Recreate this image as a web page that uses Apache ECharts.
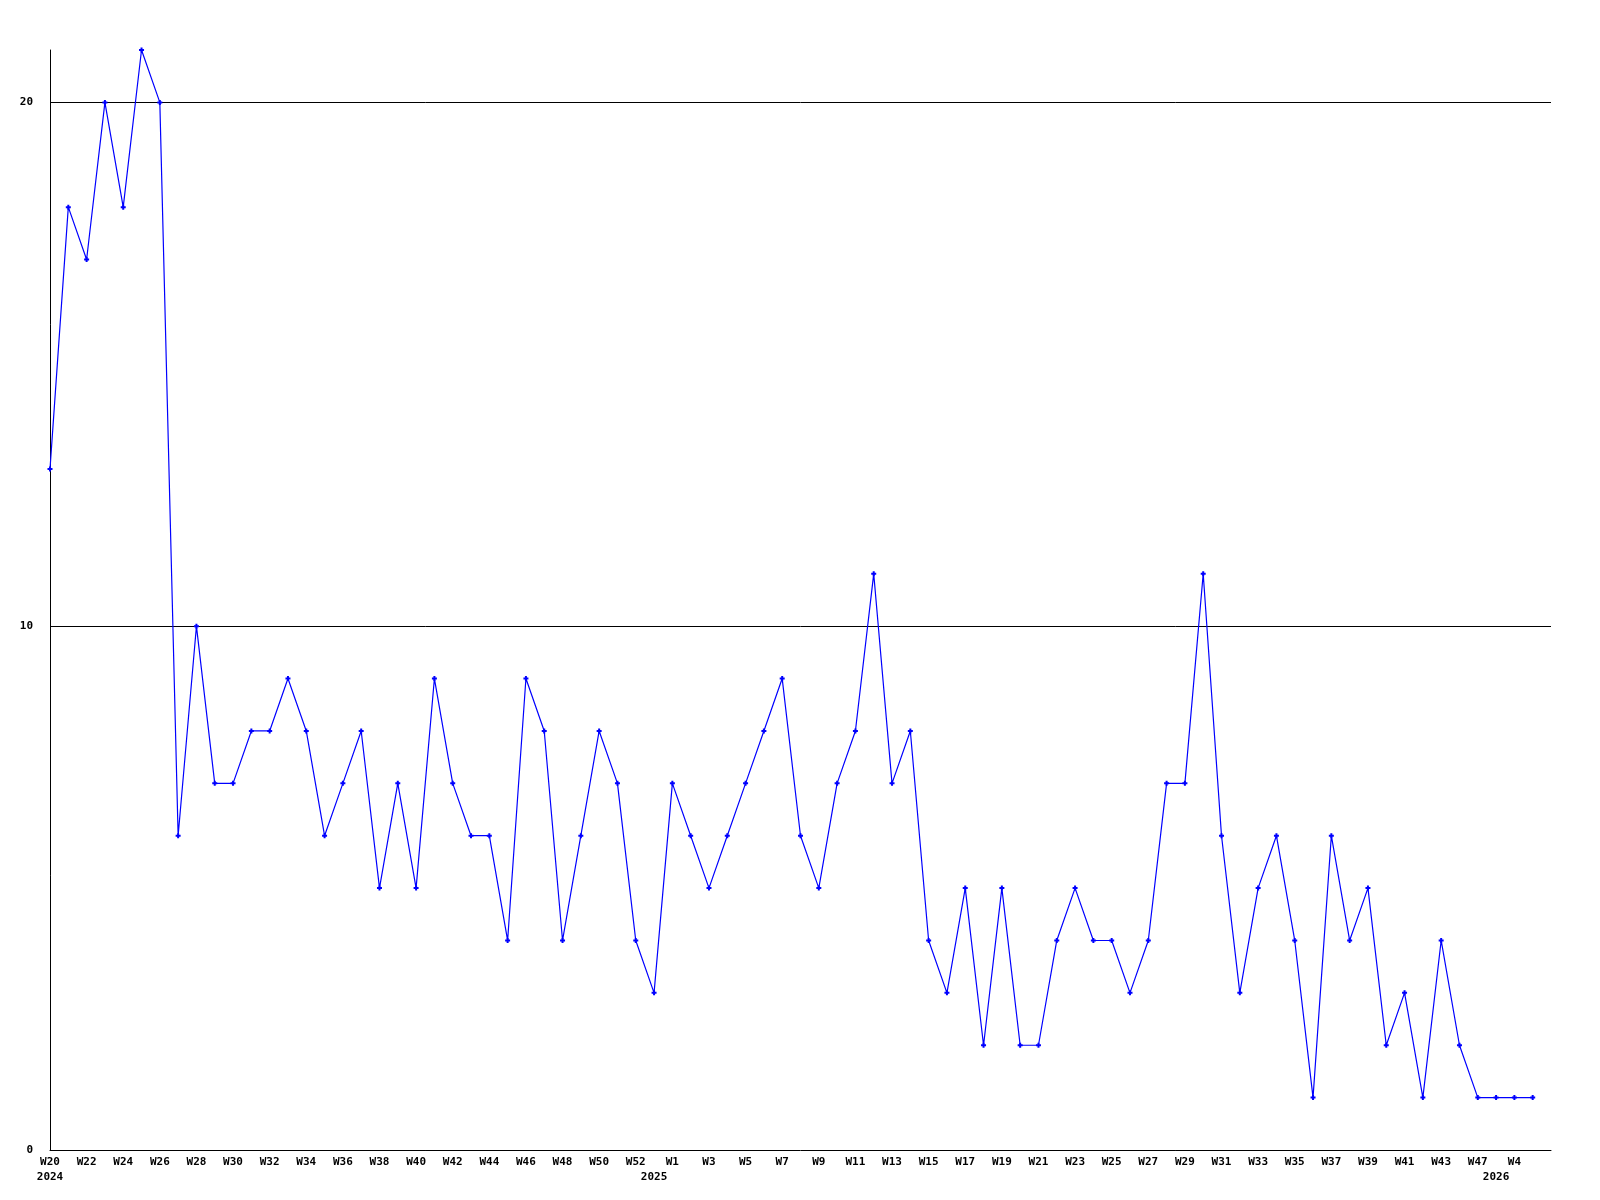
<!DOCTYPE html>
<html>
<head>
<meta charset="utf-8">
<script src="https://cdn.jsdelivr.net/npm/echarts@6/dist/echarts.min.js"></script>
<style>html,body{margin:0;padding:0;background:#fff}#c{width:1600px;height:1200px}</style>
</head>
<body>
<div id="c"></div>
<script>
const weeks = ['W20','W21','W22','W23','W24','W25','W26','W27','W28','W29','W30','W31','W32','W33','W34','W35','W36','W37','W38','W39','W40','W41','W42','W43','W44','W45','W46','W47','W48','W49','W50','W51','W52','W53',
  'W1','W2','W3','W4','W5','W6','W7','W8','W9','W10','W11','W12','W13','W14','W15','W16','W17','W18','W19','W20','W21','W22','W23','W24','W25','W26','W27','W28','W29','W30','W31','W32','W33','W34','W35','W36','W37','W38','W39','W40','W41','W42','W43','W45','W47','W1','W4','W5'];
const yearMarks = {0: '2024', 33: '2025', 79: '2026'};
const values = [13,18,17,20,18,21,20,6,10,7,7,8,8,9,8,6,7,8,5,7,5,9,7,6,6,4,9,8,4,6,8,7,4,3,
  7,6,5,6,7,8,9,6,5,7,8,11,7,8,4,3,5,2,5,2,2,4,5,4,4,3,4,7,7,11,6,3,5,6,4,1,6,4,5,2,3,1,4,2,1,1,1,1];
const yTicks = [0, 10, 20];
const gridLines = [10, 20];

const chart = echarts.init(document.getElementById('c'));
const font = '"DejaVu Sans Mono", monospace';
chart.setOption({
  animation: false,
  backgroundColor: '#fff',
  grid: {left: 50, right: 49, top: 50, bottom: 50},
  xAxis: {
    type: 'value', min: 0, max: weeks.length, interval: 1,
    axisLine: {show: true, lineStyle: {color: '#000', width: 1}},
    axisTick: {show: false},
    splitLine: {show: false},
    axisLabel: {
      showMaxLabel: false,
      color: '#000', fontFamily: font, fontWeight: 'bold', fontSize: 11, lineHeight: 15, margin: 5,
      formatter: v => {
        const i = Math.round(v);
        if (i >= weeks.length) return '';
        const w = i % 2 === 0 ? weeks[i] : ' ';
        const y = yearMarks[i] || '';
        return y ? w + '\n' + y : w;
      }
    }
  },
  yAxis: {
    type: 'value', min: 0, max: 21, interval: 10,
    axisLine: {show: true, lineStyle: {color: '#000', width: 1}},
    axisTick: {show: false},
    splitLine: {show: false},
    axisLabel: {
      color: '#000', fontFamily: font, fontWeight: 'bold', fontSize: 11, margin: 17,
      formatter: v => yTicks.includes(v) ? String(v) : ''
    }
  },
  series: [{
    type: 'line',
    data: values.map((v, i) => [i, v]),
    symbol: 'path://M1.5,0H3.5V1.5H5V3.5H3.5V5H1.5V3.5H0V1.5H1.5Z',
    symbolSize: 5,
    showAllSymbol: true,
    lineStyle: {color: '#0000ff', width: 1.2},
    itemStyle: {color: '#0000ff'},
    z: 3,
    markLine: {
      silent: true, symbol: 'none', label: {show: false},
      lineStyle: {color: '#000', width: 1, type: 'solid'},
      data: gridLines.map(g => ({yAxis: g})),
      z: 1
    }
  }]
});
</script>
</body>
</html>
